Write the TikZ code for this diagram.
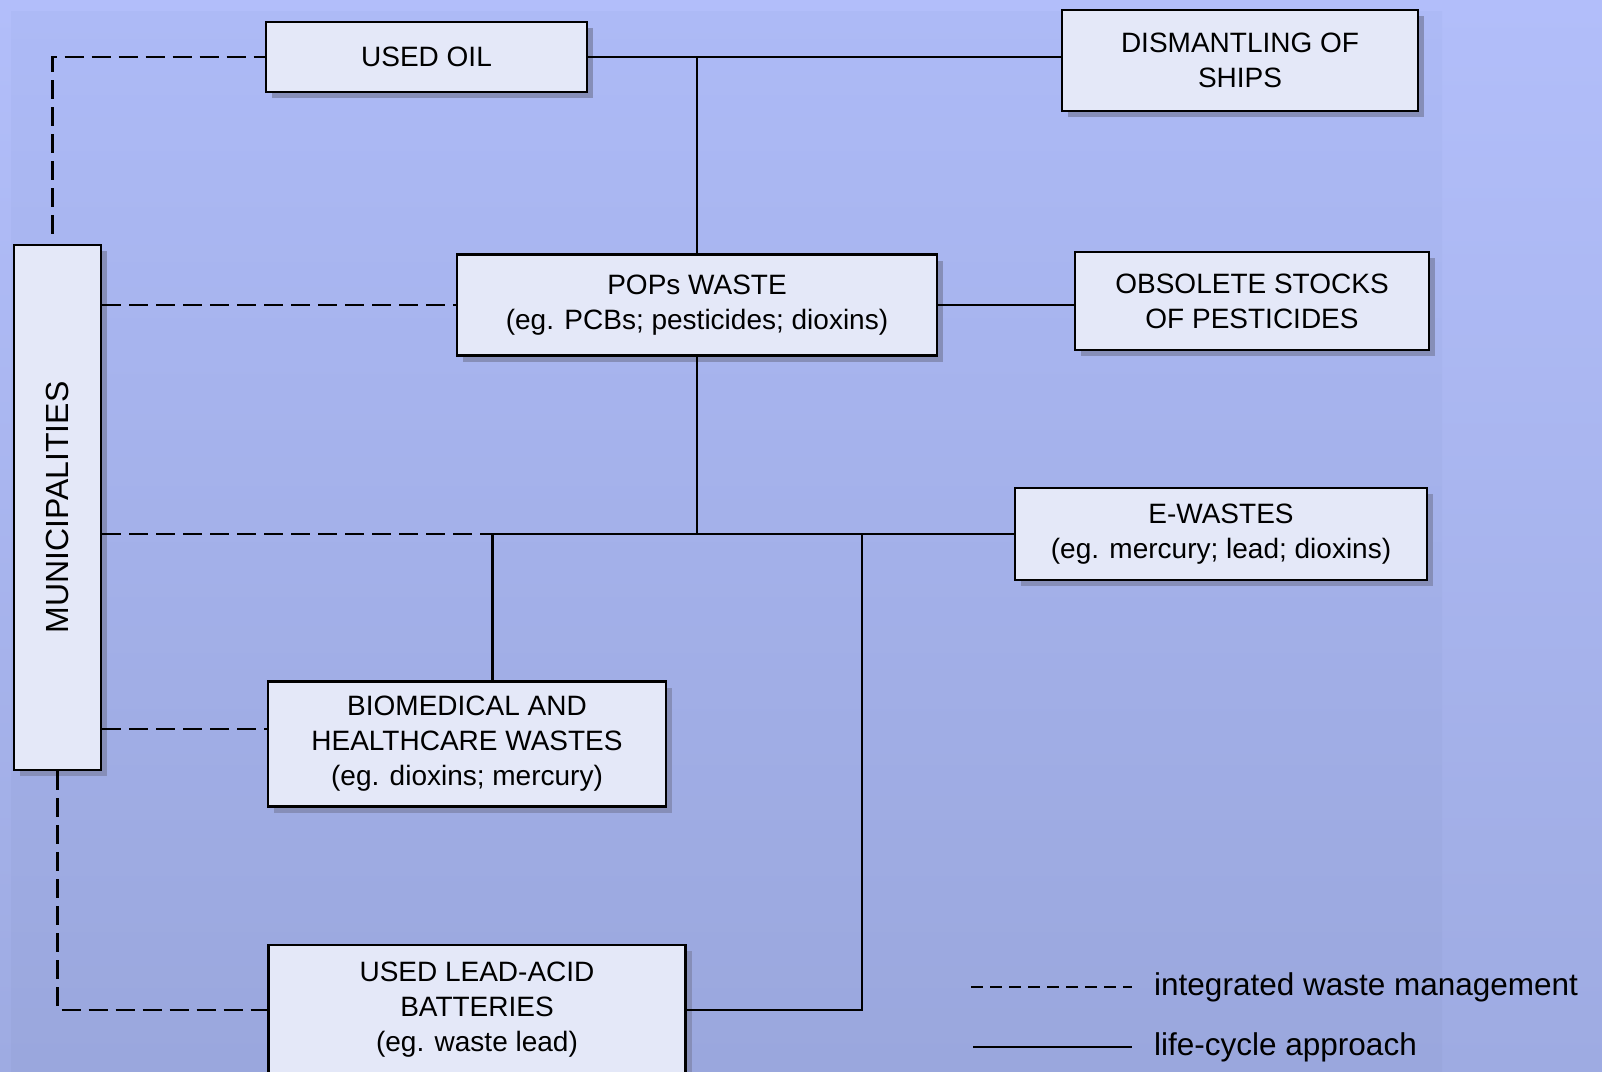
\documentclass[tikz,border=0pt]{standalone}
\usepackage{fontspec}
\setmainfont{Liberation Sans}
\usetikzlibrary{positioning}
\usetikzlibrary{shadows}
\definecolor{bgtop}{RGB}{178,190,250}
\definecolor{bgbot}{RGB}{158,171,226}
\definecolor{paneltop}{RGB}{173,186,246}
\definecolor{panelbot}{RGB}{154,167,221}
\definecolor{boxfill}{RGB}{228,232,248}
\definecolor{shadowc}{RGB}{134,142,184}
\tikzset{basic/.style={draw,line width=2.2pt,fill=boxfill,inner sep=0pt,align=center,font=\fontsize{28}{35}\selectfont,drop shadow={shadow xshift=6pt,shadow yshift=-6pt,fill=shadowc,opacity=1}}}
\tikzset{wastebox/.style={basic,rectangle}}
\tikzset{dashedlink/.style={draw,line width=2.5pt,dash pattern=on 19pt off 8pt}}
\tikzset{solidlink/.style={draw,line width=2.5pt}}
\tikzset{legendtext/.style={anchor=west,inner sep=0pt,font=\fontsize{31.5}{36}\selectfont}}
\begin{document}
\begin{tikzpicture}[x=1pt,y=-1pt]
        \useasboundingbox (0,0) rectangle (1602,1071);
        \shade[top color=bgtop,bottom color=bgbot] (0,0) rectangle (1602,1071);
        \shade[top color=paneltop,bottom color=panelbot] (11,11) rectangle (1442,1071);
        \node[wastebox,minimum width=321pt,minimum height=70pt] (usedoil) at (426.5,57) {USED OIL};
        \node[wastebox,minimum width=356pt,minimum height=101pt] (ships) at (1240,60.5) {DISMANTLING OF\\SHIPS};
        \node[wastebox,minimum width=87pt,minimum height=525pt,font=\fontsize{32}{36}\selectfont] (muni) at (57.5,507.5) {\rotatebox{90}{MUNICIPALITIES}};
        \node[wastebox,minimum width=480pt,minimum height=101pt] (pops) at (697,305) {POPs WASTE\\(eg. PCBs; pesticides; dioxins)};
        \node[wastebox,minimum width=354pt,minimum height=98pt] (obsolete) at (1252,301) {OBSOLETE STOCKS\\OF PESTICIDES};
        \node[wastebox,minimum width=412pt,minimum height=92pt] (ewaste) at (1221,534) {E-WASTES\\(eg. mercury; lead; dioxins)};
        \node[wastebox,minimum width=398pt,minimum height=125pt] (biomed) at (467,744) {BIOMEDICAL AND\\HEALTHCARE WASTES\\(eg. dioxins; mercury)};
        \node[wastebox,minimum width=417pt,minimum height=130pt] (battery) at (477,1010) {USED LEAD-ACID\\BATTERIES\\(eg. waste lead)};
        \coordinate (jbio) at (492.5,0 |- ewaste.west);
        \coordinate (jbat) at (862,0 |- ewaste.west);
        % life-cycle links
            \path[solidlink] (usedoil.east) -- (usedoil.east -| ships.west);
            \path[solidlink] (pops.north) -- (pops.north |- usedoil.east);
            \path[solidlink] (pops.east) -- (pops.east -| obsolete.west);
            \path[solidlink] (pops.south) -- (pops.south |- jbio);
            \path[solidlink] (jbio) -- (ewaste.west);
            \path[solidlink] (jbio) -- (jbio |- biomed.north);
            \path[solidlink] (jbat) |- (battery.east);
        % integrated waste management links
            \path[dashedlink] ([xshift=-5pt,yshift=10pt]muni.north) |- (usedoil.west);
            \path[dashedlink] (muni.east |- pops.west) -- (pops.west);
            \path[dashedlink] (muni.east |- jbio) -- (jbio);
            \path[dashedlink] ([yshift=15pt]biomed.west -| muni.east) -- ([yshift=15pt]biomed.west);
            \path[dashedlink] (muni.south) |- (battery.west);
        % legend
        \node[legendtext] (legiwm) at (1154,987) {integrated waste management};
        \node[legendtext] (leglca) at (1154,1047) {life-cycle approach};
        \coordinate[left=22pt of legiwm.west] (iwmend);
        \coordinate[left=183pt of legiwm.west] (iwmstart);
        \coordinate[left=22pt of leglca.west] (lcaend);
        \coordinate[left=181pt of leglca.west] (lcastart);
            \path[draw,line width=2.5pt,dash pattern=on 12pt off 7pt] (iwmstart) -- (iwmend);
            \path[solidlink] (lcastart) -- (lcaend);
    \end{tikzpicture}
\end{document}
